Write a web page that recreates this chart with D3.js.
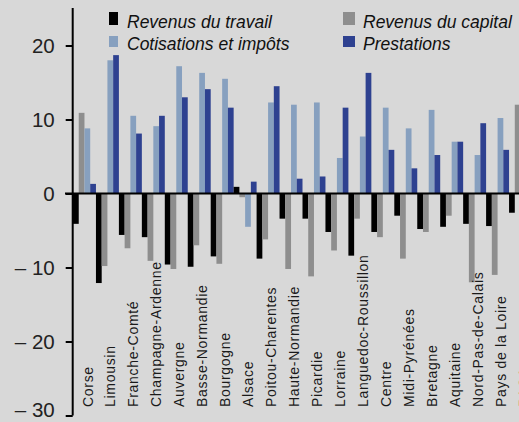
<!DOCTYPE html>
<html>
<head>
<meta charset="utf-8">
<script src="https://cdn.jsdelivr.net/npm/d3@7"></script>
<style>
  html, body { margin: 0; padding: 0; background: #d8d8d8; }
  svg { display: block; }
</style>
</head>
<body>
<script>
const categories = ["Corse", "Limousin", "Franche-Comté", "Champagne-Ardenne", "Auvergne",
  "Basse-Normandie", "Bourgogne", "Alsace", "Poitou-Charentes", "Haute-Normandie",
  "Picardie", "Lorraine", "Languedoc-Roussillon", "Centre", "Midi-Pyrénées",
  "Bretagne", "Aquitaine", "Nord-Pas-de-Calais", "Pays de la Loire", "PACA"];
const seriesNames = ["Revenus du travail", "Revenus du capital", "Cotisations et impôts", "Prestations"];
const travail = [-4.1, -12.1, -5.6, -5.9, -9.6, -9.9, -8.5, 0.9, -8.8, -3.4, -3.4, -5.2, -8.4, -5.2, -3.0, -4.8, -4.5, -4.1, -4.4, -2.6];
const capital = [10.9, -9.8, -7.4, -9.1, -10.2, -7.0, -9.5, -0.5, -6.2, -10.2, -11.2, -7.7, -3.4, -5.9, -8.8, -5.2, -3.0, -12.0, -11.0, 12.0];
const cotisations = [8.8, 18.0, 10.5, 9.1, 17.2, 16.3, 15.5, -4.5, 12.3, 12.0, 12.3, 4.8, 7.7, 11.6, 8.8, 11.3, 7.0, 5.2, 10.2, null];
const prestations = [1.3, 18.7, 8.1, 10.5, 13.0, 14.1, 11.6, 1.6, 14.5, 2.0, 2.3, 11.6, 16.3, 5.9, 3.4, 5.2, 7.0, 9.5, 5.9, null];
const yTicks = [20, 10, 0, -10, -20, -30];
const colors = ["#000000", "#8e8e8e", "#87a0bf", "#2e4190"];

const W = 519, H = 422;
const svg = d3.select("body").append("svg").attr("width", W).attr("height", H);
svg.append("rect").attr("width", W).attr("height", H).attr("fill", "#d8d8d8");

const values = [travail, capital, cotisations, prestations];
const x = d3.scaleBand().domain(categories).range([73, 73 + 22.95 * categories.length]).padding(0);
const xs = d3.scaleBand().domain(d3.range(4)).range([0, x.bandwidth()]).padding(0);
const y = d3.scaleLinear().domain([-30, 20]).range([415.5, 45.5]);

// bars
categories.forEach((c, i) => {
  values.forEach((arr, s) => {
    const v = arr[i];
    if (v === null || v === undefined) return;
    svg.append("rect")
      .attr("x", x(c) + xs(s))
      .attr("width", xs.bandwidth())
      .attr("y", y(Math.max(0, v)))
      .attr("height", Math.abs(y(v) - y(0)))
      .attr("fill", colors[s]);
  });
});

// zero line
svg.append("line").attr("x1", 65).attr("x2", W).attr("y1", y(0)).attr("y2", y(0))
  .attr("stroke", "#000").attr("stroke-width", 2);

// y axis
const yAxis = d3.axisLeft(y).tickValues(yTicks).tickSize(7).tickPadding(11)
  .tickFormat(d => d < 0 ? "– " + Math.abs(d) : String(d));
const ga = svg.append("g").attr("transform", "translate(72.7,0)").call(yAxis);
ga.select(".domain").remove();
ga.selectAll(".tick line").attr("stroke", "#000").attr("stroke-width", 2);
ga.selectAll(".tick text").attr("font-family", "Liberation Sans, Arial, sans-serif")
  .attr("font-size", 20.5).attr("fill", "#222")
  .attr("dy", d => d === -30 ? "0.05em" : "0.32em");
svg.append("line").attr("x1", 72.7).attr("x2", 72.7).attr("y1", 8).attr("y2", 415.5)
  .attr("stroke", "#000").attr("stroke-width", 2);

// category labels
svg.append("g").selectAll("text").data(categories).join("text")
  .attr("transform", d => `translate(${x(d) + 19.5},407) rotate(-90)`)
  .attr("font-family", "Liberation Sans, Arial, sans-serif")
  .attr("font-size", 14).attr("letter-spacing", 0.7)
  .attr("fill", "#1a1a1a")
  .text(d => d);

// legend
const legendPos = [
  {x: 109, y: 12, w: 9, h: 13, tx: 127, ty: 28},
  {x: 343, y: 12, w: 12, h: 13, tx: 363, ty: 28},
  {x: 109, y: 36, w: 9, h: 11, tx: 127, ty: 50},
  {x: 343, y: 36, w: 12, h: 11, tx: 363, ty: 50}
];
seriesNames.forEach((n, s) => {
  const p = legendPos[s];
  svg.append("rect").attr("x", p.x).attr("y", p.y).attr("width", p.w).attr("height", p.h).attr("fill", colors[s]);
  svg.append("text").attr("x", p.tx).attr("y", p.ty)
    .attr("font-family", "Liberation Sans, Arial, sans-serif")
    .attr("font-style", "italic").attr("font-size", 17.5).attr("fill", "#111")
    .text(n);
});
</script>
</body>
</html>
